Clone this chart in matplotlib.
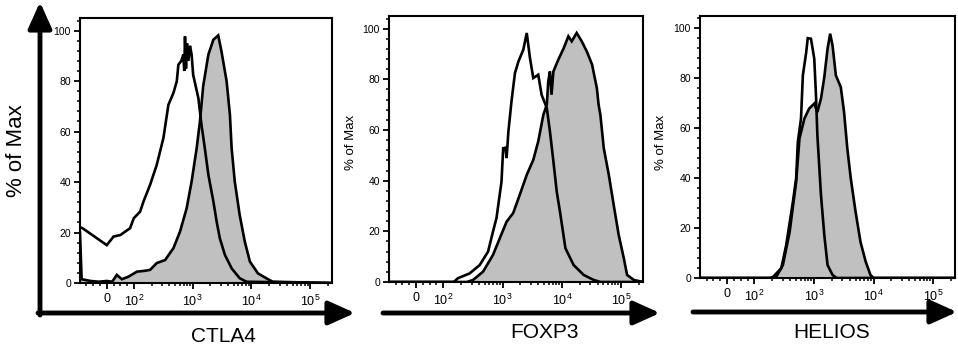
import numpy as np
import matplotlib
matplotlib.use("Agg")
import matplotlib.pyplot as plt

plt.rcParams['font.family'] = ['Liberation Sans', 'DejaVu Sans']

# Histogram outlines (x = fluorescence intensity, y = % of max)
ctla4_iso_x = [-99, -91, 0, 25, 50, 86, 100, 128, 146, 189, 245, 318, 387, 471, 537, 572,
               640, 694, 720, 741, 770, 800, 845, 900, 960, 1020, 1250, 1413, 1610, 1850,
               2250, 2560, 2900, 3540, 4600, 6300, 8200, 234000]
ctla4_iso_y = [22, 21.8, 15, 18.4, 19, 21.7, 25.7, 28.3, 32.3, 38.9, 46.8, 57.4, 70.6, 75.3,
               79.9, 86.5, 88, 90.5, 84, 97.7, 85, 95, 88, 94, 90.5, 82.5, 73.3, 62.7, 53.4,
               42.9, 32.3, 24.3, 17.7, 11.1, 5.8, 1.9, 0.5, 0]
ctla4_stain_x = [-99, -93, -60, -30, 0, 20, 37, 56, 80, 113, 150, 189, 245, 340, 471, 610,
                 790, 960, 1170, 1330, 1510, 1850, 2250, 2720, 3090, 3780, 4300, 4600, 5200,
                 6300, 7700, 9400, 12900, 17800, 23000, 234000]
ctla4_stain_y = [20, 1.5, 0.8, 0.5, 0.8, 0.5, 3.2, 1.5, 2.5, 4.5, 4.8, 5.2, 7.9, 9.1, 13.8,
                 20.4, 29.6, 40.2, 53.4, 64, 78, 90.5, 96.4, 98.1, 91.8, 79.9, 66.7, 53.4,
                 40.2, 27, 16.4, 8.5, 3.8, 1.9, 0.5, 0]

foxp3_iso_x = [-99, 150, 177, 279, 412, 570, 690, 790, 960, 1025, 1120, 1170, 1255, 1415,
               1620, 1850, 2240, 2560, 2900, 3300, 4000, 4560, 5580, 6300, 7200, 8200, 9300,
               11500, 15800, 23300, 34500, 45000, 234000]
foxp3_iso_y = [0, 0, 1.5, 3.4, 6.7, 12, 19.9, 25.2, 39.6, 52.8, 53, 48.9, 59.4, 71.3, 82.5,
               87, 91.7, 98.3, 88.4, 80.5, 81.8, 73.9, 68.7, 59.4, 47.7, 35.7, 27.8, 13.3, 6.7,
               2.8, 0.8, 0, 0]
foxp3_stain_x = [-99, 250, 318, 470, 690, 900, 1170, 1510, 1950, 2560, 3300, 4000, 4880, 5580,
                 5900, 6300, 6700, 7200, 8700, 10800, 12900, 14700, 17800, 21700, 26400, 32400,
                 39000, 41700, 44700, 51000, 62000, 75000, 91000, 111000, 126000, 164000, 234000]
foxp3_stain_y = [0, 0, 0.8, 4.1, 10.7, 17.3, 23.8, 27.2, 34.4, 42.3, 48.2, 55.5, 66, 70, 79.2,
                 83.1, 73.9, 83.1, 87.7, 92.4, 97, 95, 98.3, 95, 91, 85.8, 76.5, 70, 66, 52.8,
                 42.3, 30.4, 18.6, 9.4, 2.8, 0.8, 0]

helios_iso_x = [-99, 180, 206, 282, 341, 442, 501, 535, 605, 650, 740, 785, 890, 1010, 1080,
                1140, 1310, 1490, 1690, 2050, 2400, 234000]
helios_iso_y = [0, 0, 0.5, 3.9, 13.2, 30.5, 39.9, 54.5, 63.9, 81.2, 90.5, 96.1, 95.9, 87.9,
                73.2, 57.2, 33.2, 17.2, 5.2, 1.2, 0, 0]
helios_stain_x = [-99, 200, 233, 300, 390, 501, 570, 690, 830, 1010, 1140, 1310, 1490, 1690,
                  1870, 2050, 2330, 2820, 3200, 3630, 4150, 5000, 6040, 7400, 8900, 10000, 234000]
helios_stain_y = [0, 0, 0.5, 5.2, 18.5, 38.5, 55.9, 63.9, 67.9, 69.9, 66.5, 71.9, 80.5, 91.9,
                  97.9, 93.2, 81.2, 76.5, 66.5, 51.9, 39.9, 26.5, 14.5, 6.5, 1.2, 0, 0]

markers = ["CTLA4", "FOXP3", "HELIOS"]
xtick_vals = [0, 100, 1000, 10000, 100000]
xtick_labels = ["0", r"$\mathregular{10^2}$", r"$\mathregular{10^3}$",
                r"$\mathregular{10^4}$", r"$\mathregular{10^5}$"]


# logicle-like axis: linear below 100, log above
def fwd(x):
    x = np.asarray(x, dtype=float)
    return np.where(x < 100, 1.54 + 0.0046 * x, np.log10(np.maximum(x, 100)))


def inv(u):
    u = np.asarray(u, dtype=float)
    return np.where(u < 2, (u - 1.54) / 0.0046, 10 ** np.minimum(u, 12))


W, H = 958, 347
fig = plt.figure(figsize=(W / 100, H / 100), dpi=100)


def px_axes(l, t, r, b):
    return fig.add_axes([l / W, 1 - b / H, (r - l) / W, (b - t) / H])


boxes = [(80, 18, 332, 283), (389, 16, 643, 282), (700, 16, 955, 278)]
data = [(ctla4_iso_x, ctla4_iso_y, ctla4_stain_x, ctla4_stain_y),
        (foxp3_iso_x, foxp3_iso_y, foxp3_stain_x, foxp3_stain_y),
        (helios_iso_x, helios_iso_y, helios_stain_x, helios_stain_y)]

minor_x = [-75, -50, -25, 25, 50, 75]
for dec in [100, 1000, 10000]:
    minor_x += [k * dec for k in range(2, 10)]
minor_x.append(200000)

for box, (ix, iy, sx, sy) in zip(boxes, data):
    ax = px_axes(*box)
    ax.set_xscale('function', functions=(fwd, inv))
    ax.fill_between(sx, sy, 0, color='#c0c0c0', lw=0)
    ax.plot(sx, sy, color='black', lw=1.9, solid_joinstyle='miter')
    ax.plot(ix, iy, color='black', lw=1.9, solid_joinstyle='miter')
    ax.set_xlim(-99, 234000)
    ax.set_ylim(0, 105)
    ax.set_xticks(xtick_vals)
    ax.set_xticklabels(xtick_labels)
    ax.set_xticks(minor_x, minor=True)
    ax.set_yticks([0, 20, 40, 60, 80, 100])
    ax.set_yticks([v for v in range(0, 105, 4) if v % 20 != 0], minor=True)
    ax.tick_params(which='major', direction='out', length=4.5, width=1.3, pad=2)
    ax.tick_params(which='minor', direction='out', length=2.5, width=1.1)
    ax.tick_params(axis='x', labelsize=9, pad=3)
    ax.tick_params(axis='y', labelsize=7.5)
    for sp in ax.spines.values():
        sp.set_linewidth(1.5)

# overlay for arrows and labels
ov = fig.add_axes([0, 0, 1, 1])
ov.set_xlim(0, W)
ov.set_ylim(H, 0)
ov.axis('off')
arrow = dict(arrowstyle='-|>,head_length=1.0,head_width=0.45', lw=3.5, color='black',
             mutation_scale=16, shrinkA=0, shrinkB=0)
ov.annotate('', xy=(40, 2), xytext=(40, 315), arrowprops=arrow)
ov.annotate('', xy=(355, 313), xytext=(38, 313), arrowprops=arrow)
ov.annotate('', xy=(660, 313), xytext=(383, 313), arrowprops=arrow)
ov.annotate('', xy=(957, 312), xytext=(693, 312), arrowprops=arrow)

ov.text(17, 151, "% of Max", rotation=90, fontsize=16, ha='center', va='center')
ov.text(351, 142, "% of Max", rotation=90, fontsize=9.5, ha='center', va='center')
ov.text(661, 142, "% of Max", rotation=90, fontsize=9.5, ha='center', va='center')
for name, cx, cy in zip(markers, [223, 545, 832], [336, 332, 332]):
    ov.text(cx, cy, name, fontsize=15, ha='center', va='center')

fig.savefig("out.png", dpi=100)
